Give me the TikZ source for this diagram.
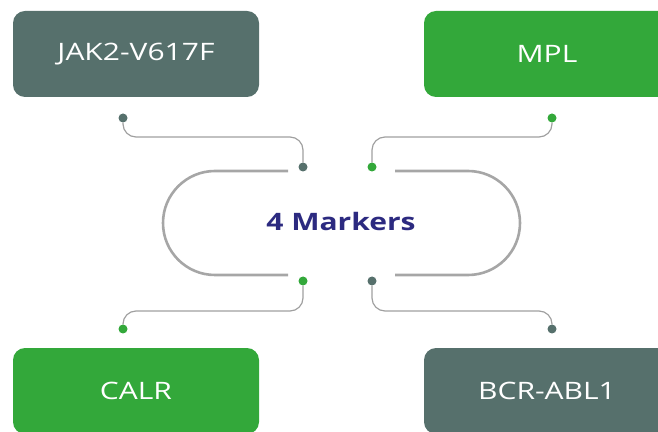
\documentclass[tikz,border=0pt]{standalone}
\usepackage{fontspec}
\setmainfont{Open Sans}[FakeStretch=1.25]
\usetikzlibrary{calc}
\definecolor{slate}{RGB}{86,112,108}
\definecolor{leaf}{RGB}{51,168,58}
\definecolor{ink}{RGB}{44,42,128}
\definecolor{wire}{RGB}{160,160,160}
\definecolor{hoop}{RGB}{166,166,166}
\tikzset{
  marker/.style={rounded corners=12pt, minimum width=246pt, minimum height=86pt,
    inner sep=0pt, text=white, font=\fontsize{24}{28}\selectfont},
  dot/.style={circle, inner sep=0pt, minimum size=9pt},
  link/.style={draw=wire, line width=1.2pt, rounded corners=13pt},
  hoopline/.style={draw=hoop, line width=2.6pt}
}

\begin{document}
\begin{tikzpicture}[x=1pt, y=1pt]
		%%%%% START %%%%%
		\useasboundingbox (0, 0) rectangle (658, 431);
		\clip (0, 0) rectangle (658, 431);
		
		\node[marker, fill=slate] (jak) at (136, 377) {JAK2-V617F};
		\node[marker, fill=leaf] (mpl) at (547, 377) {MPL};
		\node[marker, fill=leaf] (calr) at (136, 40) {CALR};
		\node[marker, fill=slate] (bcr) at (547, 40) {BCR-ABL1};
		
		\node[font=\bfseries\fontsize{24}{28}\selectfont, text=ink] (hub) at (341, 209) {4 Markers};
		
		\node[dot, fill=slate] (jakdot) at (123, 313) {};
		\node[dot, fill=slate] (jakin) at (303, 264) {};
		\node[dot, fill=leaf] (mpldot) at (552, 313) {};
		\node[dot, fill=leaf] (mplin) at (372, 264) {};
		\node[dot, fill=leaf] (calrin) at (303, 150) {};
		\node[dot, fill=leaf] (calrdot) at (123, 102) {};
		\node[dot, fill=slate] (bcrin) at (372, 150) {};
		\node[dot, fill=slate] (bcrdot) at (552, 102) {};
		
		\draw[link] (jakdot) -- ([yshift=-19pt]jakdot.center) -| (jakin);
		\draw[link] (mpldot) -- ([yshift=-19pt]mpldot.center) -| (mplin);
		\draw[link] (calrin) -- ([yshift=-30pt]calrin.center) -| (calrdot);
		\draw[link] (bcrin) -- ([yshift=-30pt]bcrin.center) -| (bcrdot);
		
		\coordinate (lefttop) at (288, 260);
		\coordinate (leftbot) at (288, 156);
		\coordinate (righttop) at (395, 260);
		\coordinate (rightbot) at (395, 156);
		\draw[hoopline] (lefttop) -- (215, 260) arc (90:270:52) -- (leftbot);
		\draw[hoopline] (righttop) -- (468, 260) arc (90:-90:52) -- (rightbot);
		
		%%%%% END %%%%%
\end{tikzpicture}
\end{document}
